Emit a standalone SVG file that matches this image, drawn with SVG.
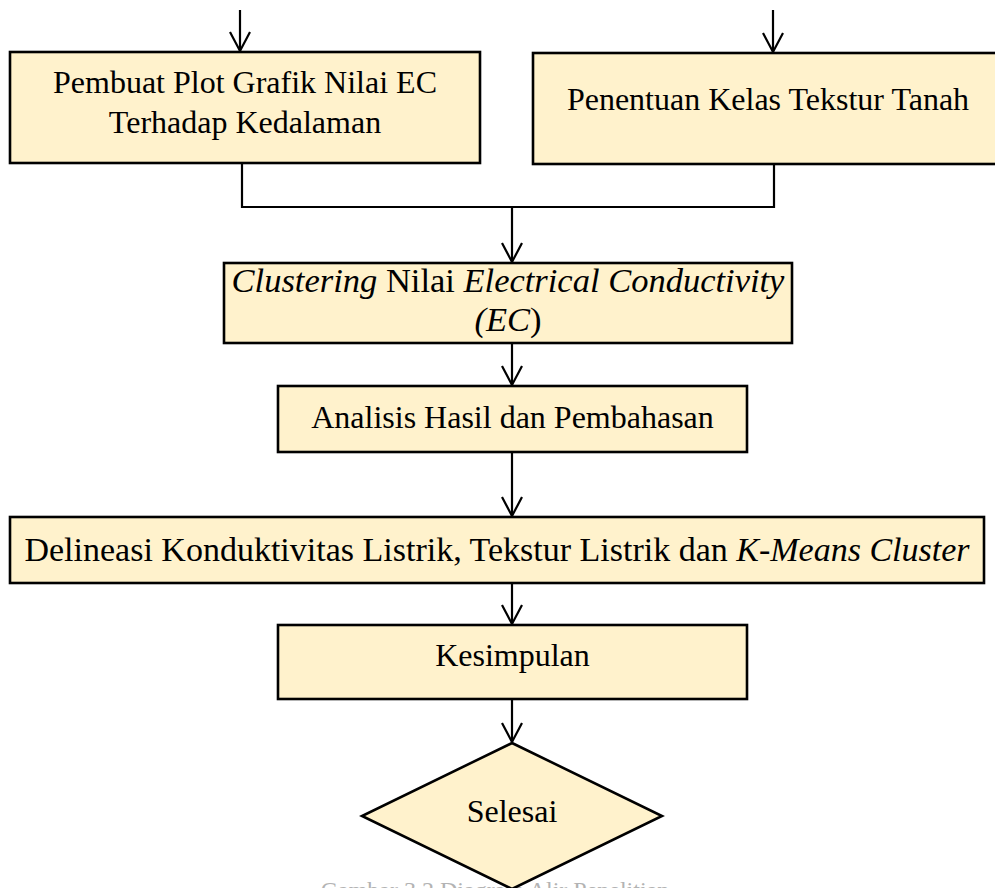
<svg xmlns="http://www.w3.org/2000/svg" width="995" height="888" viewBox="0 0 995 888">
<style>
.box{fill:#FFF2CC;stroke:#000;stroke-width:2.6}
.ln{fill:none;stroke:#000;stroke-width:2.2}
.t{font-family:"Liberation Serif","Times New Roman",serif;font-size:32px;fill:#000;text-anchor:middle}
.i{font-style:italic}
.cap{font-family:"Liberation Serif","Times New Roman",serif;font-size:24px;fill:#b3b3b3;text-anchor:middle}
</style>
<defs>
<marker id="ah" markerUnits="userSpaceOnUse" markerWidth="30" markerHeight="30" refX="0" refY="0" orient="auto" overflow="visible">
<path d="M-19,-10 L0,0 L-19,10" fill="none" stroke="#000" stroke-width="2.2"/>
</marker>
</defs>
<rect width="995" height="888" fill="#fff"/>
<text class="cap" x="495" y="898">Gambar 3.2 Diagram Alir Penelitian</text>
<g id="connectors">
<line class="ln" x1="240" y1="10" x2="240" y2="51" marker-end="url(#ah)"/>
<line class="ln" x1="773" y1="10" x2="773" y2="52" marker-end="url(#ah)"/>
<polyline class="ln" points="242,163 242,207 774,207 774,164"/>
<line class="ln" x1="512" y1="207" x2="512" y2="262" marker-end="url(#ah)"/>
<line class="ln" x1="512" y1="343" x2="512" y2="385" marker-end="url(#ah)"/>
<line class="ln" x1="512" y1="452" x2="512" y2="516" marker-end="url(#ah)"/>
<line class="ln" x1="512" y1="583" x2="512" y2="624" marker-end="url(#ah)"/>
<line class="ln" x1="512" y1="699" x2="512" y2="742" marker-end="url(#ah)"/>
</g>
<g id="node-plot">
<rect class="box" x="10" y="52" width="470" height="111"/>
<text class="t" x="245" y="93">Pembuat Plot Grafik Nilai EC</text>
<text class="t" x="245" y="133">Terhadap Kedalaman</text>
</g>
<g id="node-tekstur">
<rect class="box" x="533" y="53" width="470" height="111"/>
<text class="t" x="768" y="110">Penentuan Kelas Tekstur Tanah</text>
</g>
<g id="node-clustering">
<rect class="box" x="224" y="263" width="568" height="80"/>
<text class="t" x="508" y="292" style="font-size:34.5px"><tspan class="i">Clustering</tspan> Nilai <tspan class="i">Electrical Conductivity</tspan></text>
<text class="t" x="508" y="331" style="font-size:34.5px"><tspan class="i">(EC</tspan>)</text>
</g>
<g id="node-analisis">
<rect class="box" x="278" y="386" width="469" height="66"/>
<text class="t" x="512.5" y="428">Analisis Hasil dan Pembahasan</text>
</g>
<g id="node-delineasi">
<rect class="box" x="10" y="517" width="974" height="66"/>
<text class="t" x="497" y="561" style="font-size:34px">Delineasi Konduktivitas Listrik, Tekstur Listrik dan <tspan class="i">K-Means Cluster</tspan></text>
</g>
<g id="node-kesimpulan">
<rect class="box" x="278" y="625" width="469" height="74"/>
<text class="t" x="512.5" y="666">Kesimpulan</text>
</g>
<g id="node-selesai">
<polygon class="box" points="512,743 662,816 512,889 362,816"/>
<text class="t" x="512" y="822">Selesai</text>
</g>
</svg>
